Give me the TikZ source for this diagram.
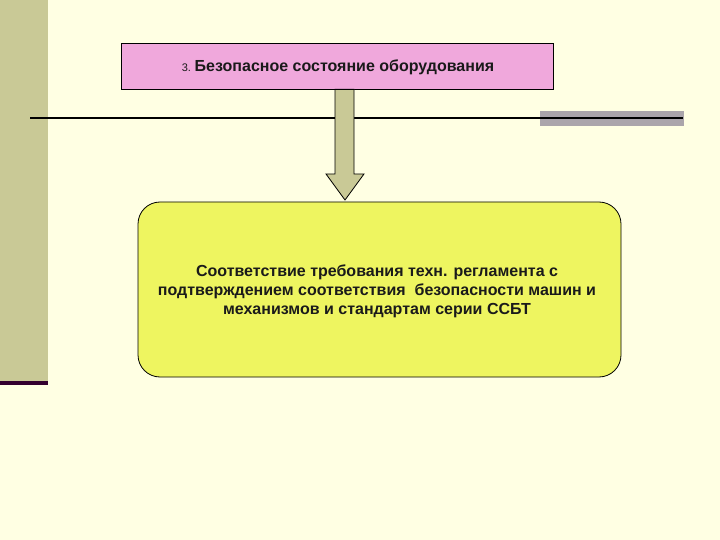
\documentclass[tikz,border=0pt]{standalone}
\usepackage{fontspec}
\setmainfont{Liberation Sans}
\definecolor{bgc}{HTML}{FFFFE3}
\definecolor{bandc}{HTML}{C9C996}
\definecolor{purp}{HTML}{33002E}
\definecolor{pinkc}{HTML}{F0A8DC}
\definecolor{yelc}{HTML}{EEF560}
\definecolor{grayc}{HTML}{ABA5AB}
\definecolor{txtc}{HTML}{1A1A1A}
\tikzset{
  titlebox/.style={draw=black, fill=pinkc, line width=0.8pt, minimum width=432pt, minimum height=46pt, inner sep=0pt},
  mainbox/.style={draw=black, fill=yelc, line width=0.8pt, rounded corners=22pt, minimum width=483pt, minimum height=175pt, inner sep=0pt},
  arrowshape/.style={draw=black, fill=bandc, line width=0.8pt, line join=miter},
}
\begin{document}
\begin{tikzpicture}[x=1pt,y=-1pt]
\useasboundingbox (0,0) rectangle (720,540);
\fill[bgc] (0,0) rectangle (720,540);
% left band
\fill[bandc] (0,0) rectangle (48,381);
\fill[purp] (0,381) rectangle (48,385);
% horizontal rule with gray bar
\fill[grayc] (540,111) rectangle (684,126);
\coordinate (hl) at (30,118);
\coordinate (hr) at (683,118);
\draw[black, line width=1.6pt] (hl) -- (hr);
% title box
\node[titlebox] (title) at (337,66) {};
\node[text=txtc, anchor=center] (titletext) at (338,67) {{\fontsize{11}{12}\selectfont 3.} {\fontsize{16}{18}\selectfont\bfseries Безопасное состояние оборудования}};
% main box
\node[mainbox] (main) at (379.5,289.5) {};
\node[text=txtc, align=center, font=\fontsize{16}{19}\selectfont\bfseries] (maintext) at (377,291)
  {Соответствие требования техн. регламента с\\подтверждением соответствия\ \ безопасности машин и\\механизмов и стандартам серии ССБТ};
% arrow
\draw[arrowshape] (title.south -| 335,0) -- (335,174) -- (326,174) -- (345,200) -- (364,174) -- (354,174) -- (title.south -| 354,0) -- cycle;
\end{tikzpicture}
\end{document}
